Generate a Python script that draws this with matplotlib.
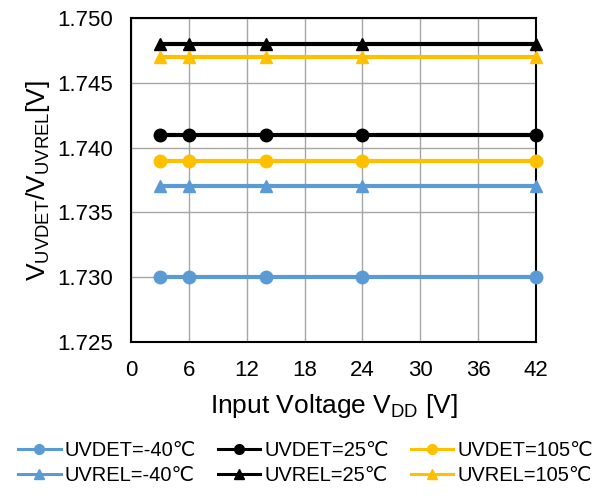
import matplotlib
matplotlib.use("Agg")
import matplotlib.pyplot as plt
from matplotlib.lines import Line2D

plt.rcParams['font.family'] = ['Liberation Sans', 'DejaVu Sans']
plt.rcParams['mathtext.fontset'] = 'custom'
plt.rcParams['mathtext.rm'] = 'Liberation Sans'

vdd = [3, 6, 14, 24, 42]
uvdet_m40 = [1.730, 1.730, 1.730, 1.730, 1.730]
uvrel_m40 = [1.737, 1.737, 1.737, 1.737, 1.737]
uvdet_25 = [1.741, 1.741, 1.741, 1.741, 1.741]
uvrel_25 = [1.748, 1.748, 1.748, 1.748, 1.748]
uvdet_105 = [1.739, 1.739, 1.739, 1.739, 1.739]
uvrel_105 = [1.747, 1.747, 1.747, 1.747, 1.747]

xticks = [0, 6, 12, 18, 24, 30, 36, 42]
yticks = [1.725, 1.730, 1.735, 1.740, 1.745, 1.750]

blue = '#5B9BD5'
black = '#000000'
gold = '#FFC000'

fig = plt.figure(figsize=(5.96, 4.98), dpi=100)
ax = fig.add_axes([131/596, 1-342/498, (536-131)/596, (342-18)/498])

lw = 3
series = [
    (uvdet_m40, blue, 'o', 'UVDET=-40℃'),
    (uvrel_m40, blue, '^', 'UVREL=-40℃'),
    (uvdet_25, black, 'o', 'UVDET=25℃'),
    (uvrel_25, black, '^', 'UVREL=25℃'),
    (uvdet_105, gold, 'o', 'UVDET=105℃'),
    (uvrel_105, gold, '^', 'UVREL=105℃'),
]
handles = []
for y, c, m, lab in series:
    ax.plot(vdd, y, color=c, lw=lw, marker=m, markersize=9, label=lab,
            clip_on=False, zorder=3)
    handles.append(Line2D([], [], color=c, lw=2.2, marker=m, markersize=7, label=lab))

ax.set_xlim(0, 42)
ax.set_ylim(1.725, 1.750)
ax.set_xticks(xticks)
ax.set_yticks(yticks)
ax.set_yticklabels([f'{v:.3f}' for v in yticks])
ax.grid(True, color='#A6A6A6', lw=1)
ax.set_axisbelow(True)
ax.tick_params(length=0, labelsize=16)
ax.tick_params(axis='y', pad=13)
ax.tick_params(axis='x', pad=13)
for s in ax.spines.values():
    s.set_color('black')
    s.set_linewidth(1.5)

ax.set_xlabel(r'Input Voltage V$_{\mathregular{DD}}$ [V]', fontsize=19, labelpad=8)
ax.set_ylabel(r'V$_{\mathregular{UVDET}}$/V$_{\mathregular{UVREL}}$[V]', fontsize=19, labelpad=4)

fig.legend(handles=handles, loc='lower center', bbox_to_anchor=(0.513, 0.0), ncol=3,
           frameon=False, fontsize=14.5, handlelength=2.1, columnspacing=1.1,
           handletextpad=0.2, labelspacing=0.3, borderaxespad=0.25)

fig.savefig('out.png', dpi=100)
